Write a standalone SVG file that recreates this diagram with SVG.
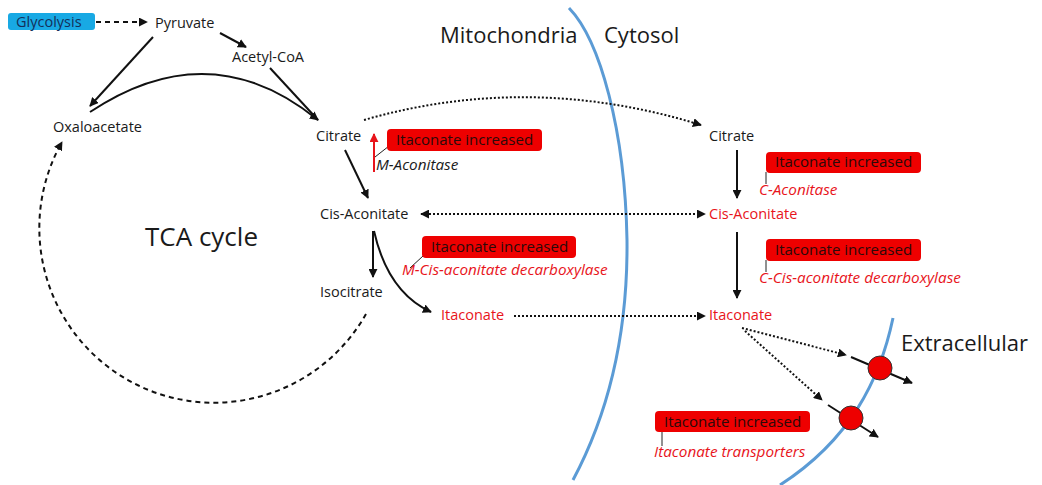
<svg xmlns="http://www.w3.org/2000/svg" width="1042" height="485" viewBox="0 0 1042 485">
<style>
text{font-family:"Open Sans","Liberation Sans",sans-serif;font-size:14.5px;fill:#1a1a1a}
.red{fill:#e8141b}
.it{font-style:italic;font-size:15.3px}
.big{font-size:22px}
.box{fill:#ee0000;rx:4}
.boxt{font-size:15px;fill:#2a0a0a}
.ln{fill:none;stroke:#111;stroke-width:2}
.dash{fill:none;stroke:#111;stroke-width:2;stroke-dasharray:5 4}
.dot{fill:none;stroke:#111;stroke-width:2;stroke-dasharray:2 2}
.mem{fill:none;stroke:#5b9bd5;stroke-width:3}
.tick{stroke:#222;stroke-width:1}
</style>
<defs>
<marker id="ah" viewBox="0 0 10 10" refX="9" refY="5" markerWidth="4.5" markerHeight="4.5" orient="auto-start-reverse" markerUnits="strokeWidth"><path d="M0,0L10,5L0,10z" fill="#111"/></marker>
<marker id="ahr" viewBox="0 0 10 10" refX="9" refY="5" markerWidth="4.5" markerHeight="4.5" orient="auto" markerUnits="strokeWidth"><path d="M0,0L10,5L0,10z" fill="#e8141b"/></marker>
</defs>
<rect width="1042" height="485" fill="#fff"/>
<g id="membranes">
<path class="mem" d="M569,8 C600,40 625,130 627,240 C628,340 605,420 573,480"/>
<path class="mem" d="M893,318 C880,380 850,440 780,485"/>
</g>
<g id="connectors">
<path class="dash" d="M96,22 H147" marker-end="url(#ah)"/>
<path class="ln" d="M220,33 L246,47" marker-end="url(#ah)"/>
<path class="ln" d="M153,37 L90,106" marker-end="url(#ah)"/>
<path class="ln" d="M90,112 Q210,32 318,120" marker-end="url(#ah)"/>
<path class="ln" d="M270,68 L318,120"/>
<path class="dash" d="M366,314 A174,174 0 1 1 62,142" marker-end="url(#ah)"/>
<path class="ln" d="M345,150 L368,198" marker-end="url(#ah)"/>
<path class="ln" d="M373,231 V277" marker-end="url(#ah)"/>
<path class="ln" d="M374,231 C381,262 396,296 431,312" marker-end="url(#ah)"/>
<path class="dot" d="M421,214 H705" marker-start="url(#ah)" marker-end="url(#ah)"/>
<path class="dot" d="M514,316 H705" marker-end="url(#ah)"/>
<path class="dot" d="M364,120 Q530,72 701,125" marker-end="url(#ah)"/>
<path d="M374,172 V134" stroke="#e8141b" stroke-width="2" fill="none" marker-end="url(#ahr)"/>
<path class="ln" d="M737,150 V198" marker-end="url(#ah)"/>
<path class="ln" d="M737,232 V298" marker-end="url(#ah)"/>
<path class="dot" d="M742,328 L846,355" marker-end="url(#ah)"/>
<path class="dot" d="M745,331 L822,400" marker-end="url(#ah)"/>
<path class="ln" d="M851,357 L912,383" marker-end="url(#ah)"/>
<path class="ln" d="M828,405 L878,437" marker-end="url(#ah)"/>
<line class="tick" x1="375" y1="157" x2="389" y2="146"/>
<line class="tick" x1="410" y1="268" x2="423" y2="256"/>
<line class="tick" x1="766" y1="172" x2="766" y2="184"/>
<line class="tick" x1="766" y1="260" x2="766" y2="272"/>
<line class="tick" x1="662" y1="431" x2="662" y2="446"/>
</g>
<g id="transporter1"><circle cx="880" cy="368" r="12" fill="#ee0000" stroke="#333" stroke-width="1"/></g>
<g id="transporter2"><circle cx="851" cy="418" r="12" fill="#ee0000" stroke="#333" stroke-width="1"/></g>
<g id="glycolysis"><rect x="8" y="13" width="87" height="17" rx="3" fill="#18a9e4"/><text x="16" y="27" style="fill:#14305a">Glycolysis</text></g>
<g id="pyruvate"><text x="155" y="28">Pyruvate</text></g>
<g id="acetylcoa"><text x="232" y="62">Acetyl-CoA</text></g>
<g id="oxaloacetate"><text x="53" y="132">Oxaloacetate</text></g>
<g id="citrate-m"><text x="316" y="141">Citrate</text></g>
<g id="cisaconitate-m"><text x="320" y="219">Cis-Aconitate</text></g>
<g id="isocitrate"><text x="320" y="297">Isocitrate</text></g>
<g id="itaconate-m"><text class="red" x="441" y="320">Itaconate</text></g>
<g id="tca"><text x="145" y="246" style="font-size:26px">TCA cycle</text></g>
<g id="mito"><text class="big" x="440" y="43">Mitochondria</text></g>
<g id="cytosol"><text class="big" x="604" y="43">Cytosol</text></g>
<g id="extracellular"><text class="big" x="901" y="351">Extracellular</text></g>
<g id="m-aconitase"><rect class="box" x="387" y="129" width="155" height="22"/><text class="boxt" x="396" y="145">Itaconate increased</text><text class="it" x="376" y="170">M-Aconitase</text></g>
<g id="m-cad"><rect class="box" x="422" y="236" width="154" height="22"/><text class="boxt" x="431" y="252">Itaconate increased</text><text class="it red" x="402" y="275">M-Cis-aconitate decarboxylase</text></g>
<g id="citrate-c"><text x="709" y="141">Citrate</text></g>
<g id="cisaconitate-c"><text class="red" x="709" y="219">Cis-Aconitate</text></g>
<g id="itaconate-c"><text class="red" x="709" y="320">Itaconate</text></g>
<g id="c-aconitase"><rect class="box" x="766" y="152" width="155" height="21"/><text class="boxt" x="775" y="167">Itaconate increased</text><text class="it red" x="759" y="195">C-Aconitase</text></g>
<g id="c-cad"><rect class="box" x="766" y="239" width="155" height="22"/><text class="boxt" x="775" y="255">Itaconate increased</text><text class="it red" x="759" y="283">C-Cis-aconitate decarboxylase</text></g>
<g id="transporters"><rect class="box" x="655" y="411" width="155" height="21"/><text class="boxt" x="664" y="427">Itaconate increased</text><text class="it red" x="654" y="457">Itaconate transporters</text></g>
</svg>
